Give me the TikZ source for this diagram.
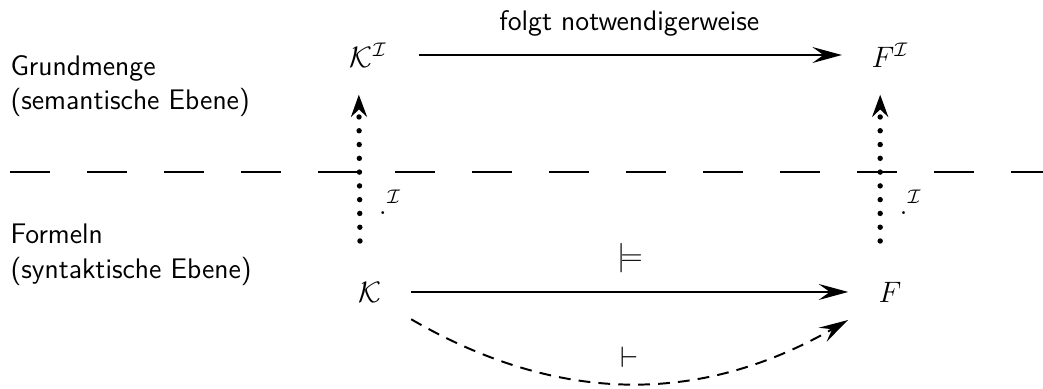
\documentclass[tikz,border=0pt]{standalone}
\usepackage{amsmath,amssymb}
\usetikzlibrary{arrows.meta}

\begin{document}
\begin{tikzpicture}[
    every node/.style={font=\sffamily\fontsize{11.5}{14}\selectfont},
    arr/.style={thick, -{Stealth[length=12pt, width=6.5pt, inset=4.5pt]}},
    dotarr/.style={line width=2.2pt, line cap=round, dash pattern=on 0pt off 5.6pt,
        -{Stealth[length=9pt, width=6.5pt, inset=3pt]}},
    level/.style={anchor=west, align=left, inner sep=0pt}
]
\useasboundingbox (0,0) rectangle (14.9,-5.543);

% Ebenen
\node[level] (sem) at (0.143,-1.23) {Grundmenge\\(semantische Ebene)};
\node[level] (syn) at (0.143,-3.64) {Formeln\\(syntaktische Ebene)};
\coordinate (sepL) at (0.143,-2.46);
\coordinate (sepR) at (14.9,-2.46);
\draw[thick, dash pattern=on 0.57cm off 0.53cm] (sepL) -- (sepR);

% Objekte
\node (KI) at (5.264,-0.786) {$\mathcal{K}^{\mathcal{I}}$};
\node (FI) at (12.714,-0.786) {$F^{\mathcal{I}}$};
\node (K) at (5.286,-4.171) {$\mathcal{K}$};
\node (F) at (12.714,-4.171) {$F$};

% Folgerung
\draw[arr, shorten <=0.34cm, shorten >=0.3cm] (KI) -- (FI)
    node[midway, above=0.13cm] {folgt notwendigerweise};
\draw[arr, shorten <=0.3cm, shorten >=0.31cm] (K) -- (F)
    node[midway, above=0.14cm] {$\models$};
\draw[arr, dash pattern=on 4.8pt off 3.3pt] ([shift={(0.3,-0.39)}]K.east) to[bend right=30]
    node[midway, above=0.1cm] {$\vdash$} ([shift={(-0.31,-0.4)}]F.west);

% Interpretation
\draw[dotarr, shorten <=0.46cm, shorten >=0.27cm] ([xshift=-0.14cm]K.north) -- ([xshift=-0.14cm]KI.south)
    node[pos=0.36, right=0.12cm] {$.^{\mathcal{I}}$};
\draw[dotarr, shorten <=0.46cm, shorten >=0.27cm] ([xshift=-0.14cm]F.north) -- ([xshift=-0.14cm]FI.south)
    node[pos=0.36, right=0.12cm] {$.^{\mathcal{I}}$};

\end{tikzpicture}
\end{document}
